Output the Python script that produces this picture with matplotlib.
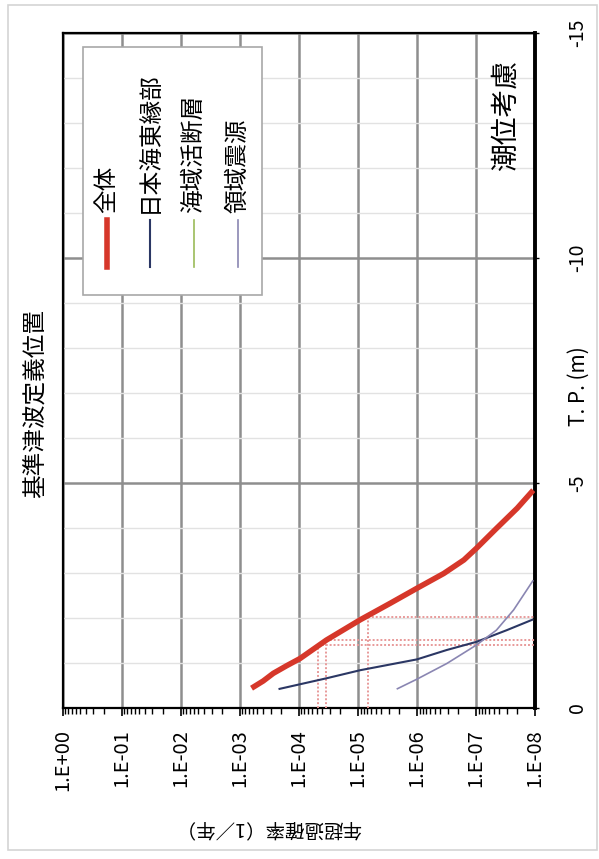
import math
import matplotlib
matplotlib.use("Agg")
import matplotlib.pyplot as plt
from matplotlib.patches import Rectangle
from matplotlib.lines import Line2D
from matplotlib.ticker import FixedLocator, LogLocator, MultipleLocator, NullFormatter, FuncFormatter

plt.rcParams['font.family'] = ['Noto Sans CJK JP', 'DejaVu Sans']
plt.rcParams['axes.unicode_minus'] = False

# hazard curves: annual exceedance probability vs T.P. (m)
zentai_p = [6.3e-4, 4.0e-4, 2.7e-4, 1.6e-4, 9.5e-5, 3.4e-5, 9.1e-6, 2.8e-6, 1.0e-6,
            3.5e-7, 1.6e-7, 9.8e-8, 4.5e-8, 2.0e-8, 1.07e-8]
zentai_h = [-0.44, -0.60, -0.77, -0.94, -1.10, -1.51, -1.96, -2.33, -2.66,
            -2.99, -3.29, -3.55, -3.99, -4.44, -4.84]

nihonkai_p = [2.2e-4, 3.4e-5, 9.1e-6, 1.0e-6, 3.1e-7, 9.8e-8, 3.0e-8, 1.07e-8]
nihonkai_h = [-0.42, -0.66, -0.84, -1.08, -1.29, -1.47, -1.73, -1.97]

kaiiki_p = []
kaiiki_h = []

ryoiki_p = [2.2e-6, 1.0e-6, 3.1e-7, 9.8e-8, 4.5e-8, 2.3e-8, 1.07e-8]
ryoiki_h = [-0.42, -0.64, -0.99, -1.40, -1.73, -2.18, -2.84]

# reading lines (probability, height)
ref_p = [4.7e-5, 3.4e-5, 6.8e-6]
ref_h = [-1.40, -1.51, -2.03]

series_names = ['全体', '日本海東縁部', '海域活断層', '領域震源']
series_colors = ['#d6372a', '#2b3764', '#9bbb59', '#8a86b2']
series_widths = [4.0, 1.5, 1.2, 1.2]

fig = plt.figure(figsize=(5.99, 8.59), dpi=100)
fig.patches.append(Rectangle((8 / 599, 1 - 850 / 859), 589 / 599, 845 / 859,
                             transform=fig.transFigure, fill=False,
                             edgecolor='#d4d4d4', lw=1.2))
ax = fig.add_axes([62.5 / 599, 1 - 708 / 859, 472.5 / 599, 675 / 859])

ax.set_xscale('log')
ax.set_xlim(1, 1e-8)
ax.set_ylim(0, -15)

ax.xaxis.set_major_locator(FixedLocator([10.0 ** -k for k in range(9)]))
ax.xaxis.set_major_formatter(FuncFormatter(lambda v, pos: "1.E%+03d" % round(math.log10(v))))
ax.xaxis.set_minor_locator(LogLocator(base=10, subs=range(2, 10), numticks=20))
ax.xaxis.set_minor_formatter(NullFormatter())
ax.tick_params(axis='x', which='major', direction='out', length=6, width=1.2,
               labelrotation=90, labelsize=14.5, pad=9)
ax.tick_params(axis='x', which='minor', direction='out', length=4, width=1.0)

ax.yaxis.tick_right()
ax.yaxis.set_major_locator(FixedLocator([0, -5, -10, -15]))
ax.yaxis.set_major_formatter(FuncFormatter(lambda v, pos: "%d" % v))
ax.yaxis.set_minor_locator(MultipleLocator(1))
ax.tick_params(axis='y', which='major', direction='out', length=3, width=1,
               labelrotation=90, labelsize=14, pad=20)
ax.tick_params(axis='y', which='minor', length=0)
for lab in ax.get_yticklabels():
    lab.set_va('center')

ax.grid(which='minor', axis='y', color='#e2e2e2', lw=1.0)
ax.grid(which='major', axis='both', color='#8e8e8e', lw=1.8)
ax.set_axisbelow(True)

for side in ['left', 'top', 'bottom']:
    ax.spines[side].set_linewidth(1.6)
ax.spines['right'].set_linewidth(2.8)

# reading lines
for p, h in zip(ref_p, ref_h):
    ax.plot([p, p], [0, h], color='#e89a9a', lw=1.4, ls=(0, (1, 1)), zorder=3)
    ax.plot([p, 1e-8], [h, h], color='#e89a9a', lw=1.4, ls=(0, (1, 1)), zorder=3)

curves = [(zentai_p, zentai_h), (nihonkai_p, nihonkai_h), (kaiiki_p, kaiiki_h), (ryoiki_p, ryoiki_h)]
for (px, hy), c, w in zip(curves, series_colors, series_widths):
    ax.plot(px, hy, color=c, lw=w, solid_capstyle='butt', solid_joinstyle='round', zorder=4)

# legend drawn sideways
ax.add_patch(Rectangle((0.0434, 0.612), 0.3786, 0.367, transform=ax.transAxes,
                       facecolor='white', edgecolor='#a8a8a8', lw=1.2, zorder=5))
leg_x = [0.094, 0.185, 0.278, 0.371]
for x, name, c, w in zip(leg_x, series_names, series_colors, series_widths):
    ax.add_line(Line2D([x, x], [0.653, 0.723], transform=ax.transAxes, color=c,
                       lw=w, zorder=6))
    ax.text(x, 0.733, name, transform=ax.transAxes, rotation=90, ha='center',
            va='bottom', fontsize=17, zorder=6)

ax.text(0.9386, 0.96, '潮位考慮', transform=ax.transAxes, rotation=90,
        ha='center', va='top', fontsize=20)

fig.text(36 / 599, 1 - 403 / 859, '基準津波定義位置', rotation=90, ha='center',
         va='center', fontsize=17)
fig.text(579 / 599, 1 - 386 / 859, 'T. P. (m)', rotation=90, ha='center',
         va='center', fontsize=15)
fig.text(268 / 599, 1 - 828 / 859, '年超過確率（1／年）', rotation=180, ha='center',
         va='center', fontsize=14)

fig.savefig('out.png', dpi=100)
